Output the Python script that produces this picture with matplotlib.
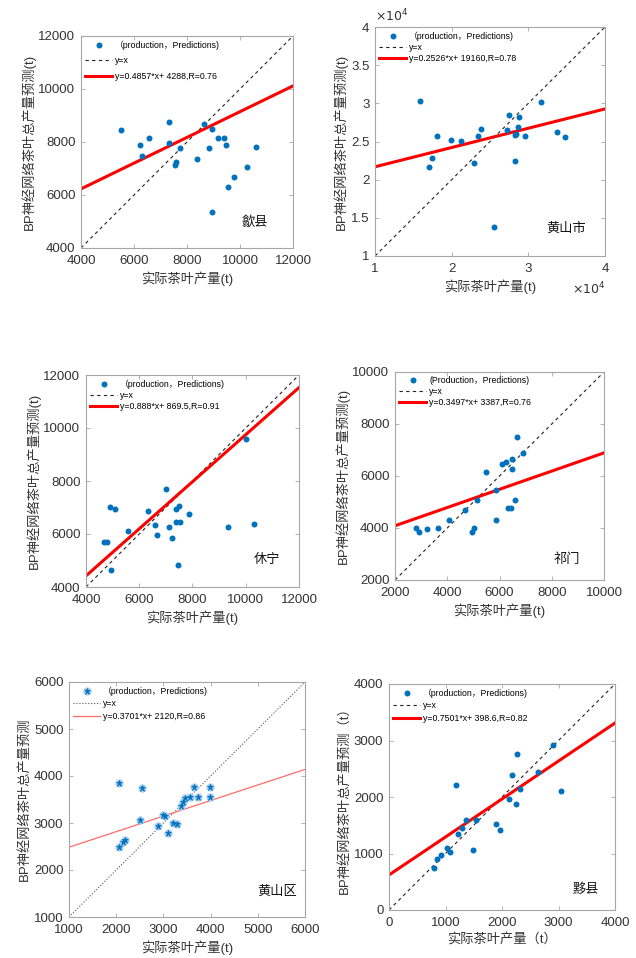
import matplotlib
matplotlib.use('Agg')
import matplotlib.pyplot as plt
import matplotlib.ticker as mticker

plt.rcParams['font.family'] = ['Liberation Sans', 'Noto Sans CJK SC', 'DejaVu Sans']
plt.rcParams['axes.unicode_minus'] = False

# 歙县
shexian_x = [5524, 6242, 6292, 6557, 7325, 7312, 7740, 7577, 7564, 8383, 8635,
             8962, 8849, 9176, 9390, 9453, 8962, 9554, 9781, 10259, 10612]
shexian_y = [8434, 7869, 7480, 8158, 8761, 7970, 7769, 7241, 7116, 7367, 8673,
             8497, 7769, 8158, 8158, 7869, 5369, 6312, 6676, 7065, 7794]
shexian_fit = [6231, 10116]

# 黄山市
hss_x = [15870, 17090, 17430, 18130, 19870, 21220, 22870, 23430, 23870, 25570, 27170,
         27480, 28220, 28300, 28430, 28740, 28700, 29520, 31650, 33740, 34830]
hss_y = [30280, 21600, 22780, 25660, 25180, 25090, 22120, 25660, 26620, 13750, 26530,
         28450, 25830, 22390, 25960, 28230, 26880, 25740, 30110, 26180, 25570]
hss_fit = [21686, 29264]

# 休宁
xiuning_x = [4890, 5078, 4665, 4790, 4953, 5567, 6320, 6583, 6683, 7009, 7135,
             7223, 7373, 7398, 7486, 7536, 7448, 7875, 9329, 10006, 10307]
xiuning_y = [7019, 6943, 5698, 5698, 4654, 6113, 6868, 6352, 5950, 7686, 6252,
             5836, 6453, 6943, 7069, 6453, 4830, 6742, 6277, 9572, 6390]
xiuning_fit = [4421, 11525]

# 祁门
qimen_x = [2815, 2917, 3223, 3643, 4064, 4662, 4930, 5032, 5121, 5490, 5847,
           5885, 6089, 6242, 6331, 6433, 6484, 6497, 6599, 6675, 6904]
qimen_y = [3984, 3856, 3946, 3984, 4291, 4701, 3830, 3997, 5059, 6160, 5443,
           4291, 6480, 6557, 4778, 4778, 6659, 6288, 5072, 7504, 6890]
qimen_fit = [4086, 6890]

# 黄山区
hsq_x = [2059, 2540, 2066, 2137, 2186, 2497, 2893, 2984, 3027, 3105, 3210,
         3281, 3373, 3408, 3458, 3571, 3655, 3733, 3980, 3994]
hsq_y = [3845, 3738, 2479, 2586, 2636, 3055, 2942, 3162, 3141, 2792, 2998,
         2970, 3364, 3454, 3524, 3546, 3767, 3546, 3774, 3546]
hsq_fit = [2485, 4140]

# 黟县
yixian_x = [804, 851, 916, 1028, 1087, 1182, 1223, 1294, 1365, 1483, 1542,
            1885, 1973, 2127, 2180, 2239, 2269, 2322, 2635, 2895, 3049]
yixian_y = [744, 910, 975, 1093, 1028, 2204, 1353, 1453, 1595, 1069, 1595,
            1518, 1412, 1967, 2381, 1879, 2759, 2145, 2440, 2919, 2115]
yixian_fit = [620, 3309]

blue = '#0072BD'
grey = '#a6a6a6'
txt = '#333333'

W, H = 636, 958
fig = plt.figure(figsize=(W / 100, H / 100), dpi=100)


def make_axes(l, t, w, h):
    return fig.add_axes([l / W, 1 - (t + h) / H, w / W, h / H])


def style(ax, lim, ticks):
    ax.set_xlim(lim)
    ax.set_ylim(lim)
    ax.set_xticks(ticks)
    ax.set_yticks(ticks)
    for s in ax.spines.values():
        s.set_color(grey)
        s.set_linewidth(0.8)
    ax.tick_params(direction='in', length=3, width=0.6, color=grey,
                   labelsize=9.5, labelcolor=txt, top=True, right=True)
    ax.tick_params(axis='x', pad=5)
    ax.tick_params(axis='y', pad=4)


def panel(box, x, y, fit, lim, ticks, eq, place, pxy, ylabel, xlabel,
          lspace, point_label='（production，Predictions)', thin=False):
    ax = make_axes(*box)
    style(ax, lim, ticks)
    if thin:
        h1 = ax.plot(x, y, 'o', color='#a9cfee', ms=6, mec='none', zorder=3)[0]
        h1b = ax.plot(x, y, '*', color=blue, ms=5, mec=blue, mew=0.5, zorder=4)[0]
        h1 = (h1, h1b)
        h2 = ax.plot(lim, lim, ':', color='#555555', lw=0.8)[0]
        h3 = ax.plot(lim, fit, '-', color='#ff6b6b', lw=0.9)[0]
    else:
        h1 = ax.plot(x, y, 'o', color=blue, ms=4.3, mec='none', zorder=3)[0]
        h2 = ax.plot(lim, lim, '--', color='#222222', lw=0.8, dashes=(3, 3))[0]
        h3 = ax.plot(lim, fit, '-', color='#ff0000', lw=2.2)[0]
    ax.legend([h1, h2, h3], [point_label, 'y=x', eq], loc='upper left',
              frameon=False, fontsize=6.3, handlelength=3.0, handletextpad=0.4,
              labelspacing=lspace, borderaxespad=0.3, borderpad=0.2)
    ax.text(pxy[0], pxy[1], place, transform=ax.transAxes, ha='center',
            va='center', fontsize=9.5, color='#111111')
    ax.set_xlabel(xlabel, fontsize=9.5, color=txt, labelpad=3)
    ax.set_ylabel(ylabel, fontsize=9.5, color=txt, labelpad=2)
    return ax


yl = 'BP神经网络茶叶总产量预测(t)'
xl = '实际茶叶产量(t)'

panel((81, 36, 212, 212), shexian_x, shexian_y, shexian_fit, [4000, 12000],
      [4000, 6000, 8000, 10000, 12000], 'y=0.4857*x+ 4288,R=0.76', '歙县',
      (0.82, 0.12), yl, xl, 0.75)

ax2 = panel((375, 27, 230, 229), hss_x, hss_y, hss_fit, [10000, 40000],
            [10000, 15000, 20000, 25000, 30000, 35000, 40000],
            'y=0.2526*x+ 19160,R=0.78', '黄山市', (0.83, 0.12), yl, xl, 0.25)
ax2.set_xticks([10000, 20000, 30000, 40000])
fmt = mticker.FuncFormatter(lambda v, p: '%g' % (v / 1e4))
ax2.xaxis.set_major_formatter(fmt)
ax2.yaxis.set_major_formatter(fmt)
ax2.text(0.0, 1.01, r'$\times10^{4}$', transform=ax2.transAxes, ha='left',
         va='bottom', fontsize=9, color=txt)
ax2.text(1.0, -0.11, r'$\times10^{4}$', transform=ax2.transAxes, ha='right',
         va='top', fontsize=9, color=txt)

panel((86, 375, 213, 212), xiuning_x, xiuning_y, xiuning_fit, [4000, 12000],
      [4000, 6000, 8000, 10000, 12000], 'y=0.888*x+ 869.5,R=0.91', '休宁',
      (0.85, 0.13), yl, xl, 0.25)

panel((395, 372, 209, 208), qimen_x, qimen_y, qimen_fit, [2000, 10000],
      [2000, 4000, 6000, 8000, 10000], 'y=0.3497*x+ 3387,R=0.76', '祁门',
      (0.82, 0.10), yl, xl, 0.2, point_label='(Production，Predictions)')

panel((69, 682, 236, 235), hsq_x, hsq_y, hsq_fit, [1000, 6000],
      [1000, 2000, 3000, 4000, 5000, 6000], 'y=0.3701*x+ 2120,R=0.86', '黄山区',
      (0.88, 0.11), 'BP神经网络茶叶总产量预测', xl, 0.4, thin=True)

panel((389, 684, 226, 226), yixian_x, yixian_y, yixian_fit, [0, 4000],
      [0, 1000, 2000, 3000, 4000], 'y=0.7501*x+ 398.6,R=0.82', '黟县',
      (0.87, 0.09), 'BP神经网络茶叶总产量预测（t）', '实际茶叶产量（t）', 0.4)

fig.savefig('out.png', dpi=100)
